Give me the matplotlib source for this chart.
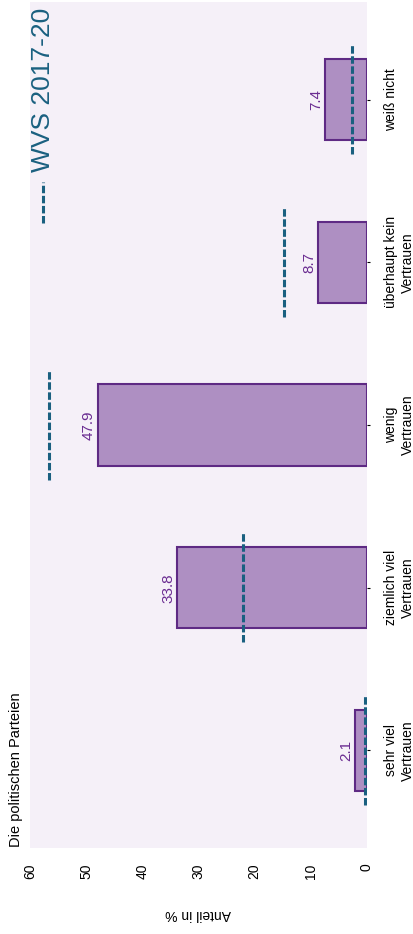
"""
Vertrauen in die politischen Parteien (WVS 2017-20), Balken im Hochformat.
"""

import matplotlib
matplotlib.use("Agg")
import matplotlib.pyplot as plt

plt.rcParams["font.family"] = ["Liberation Sans", "DejaVu Sans"]

# Daten
categories = ["sehr viel\nVertrauen", "ziemlich viel\nVertrauen", "wenig\nVertrauen",
              "überhaupt kein\nVertrauen", "weiß nicht"]
values = [2.1, 33.8, 47.9, 8.7, 7.4]
reference = [0.4, 22.0, 56.7, 14.8, 2.7]
value_ticks = [0, 10, 20, 30, 40, 50, 60]

title = "Die politischen Parteien"
legend_label = "WVS 2017-20"
axis_label = "Anteil in %"

bar_face = "#ae8fc2"
bar_edge = "#5e2a84"
label_color = "#6a2c91"
ref_color = "#1a6080"
bg_color = "#f5f0f8"
ref_dashes = (2.45, 0.85)

W, H = 414, 934
fig = plt.figure(figsize=(W / 100, H / 100), dpi=100)
ax = fig.add_axes([30 / W, (H - 848) / H, 337 / W, 846 / H])
ax.set_facecolor(bg_color)
for s in ax.spines.values():
    s.set_visible(False)

pos = list(range(len(categories)))
ax.barh(pos, values, height=0.5, color=bar_face, edgecolor=bar_edge, linewidth=1.5, zorder=2)

for i, r in enumerate(reference):
    ax.plot([r, r], [i - 0.335, i + 0.335], color=ref_color, lw=2.2,
            dashes=ref_dashes, zorder=3)

for i, v in enumerate(values):
    ax.annotate(f"{v:.1f}", xy=(v, i), xytext=(-3.5, 0), textcoords="offset points",
                rotation=90, rotation_mode="anchor", ha="center", va="baseline",
                color=label_color, fontsize=11)

ax.set_xlim(60, 0)
ax.set_ylim(-0.6, 4.6)

ax.set_xticks(value_ticks)
ax.set_xticklabels([str(t) for t in value_ticks], rotation=90, fontsize=10)
ax.tick_params(axis="x", length=0, pad=11)

ax.yaxis.tick_right()
ax.set_yticks(pos)
ax.set_yticklabels(categories, rotation=90, va="center", ha="left",
                   multialignment="center", fontsize=10)
ax.tick_params(axis="y", length=2.5, width=0.8, pad=10)

ax.set_xlabel(axis_label, rotation=180, fontsize=10, labelpad=20)

fig.text(20 / W, (H - 847) / H, title, rotation=90, rotation_mode="anchor",
         ha="left", va="baseline", fontsize=10.5)

# Legende von Hand (im Hochformat gedreht)
ax.plot([(43 - 30) / 337] * 2, [(848 - 223) / 846, (848 - 182) / 846],
        transform=ax.transAxes, color=ref_color, lw=2.2, dashes=ref_dashes)
ax.text((50 - 30) / 337, (848 - 172) / 846, legend_label, transform=ax.transAxes,
        rotation=90, rotation_mode="anchor", ha="left", va="baseline",
        color=ref_color, fontsize=19)

fig.savefig("out.png", dpi=100, facecolor="white")
